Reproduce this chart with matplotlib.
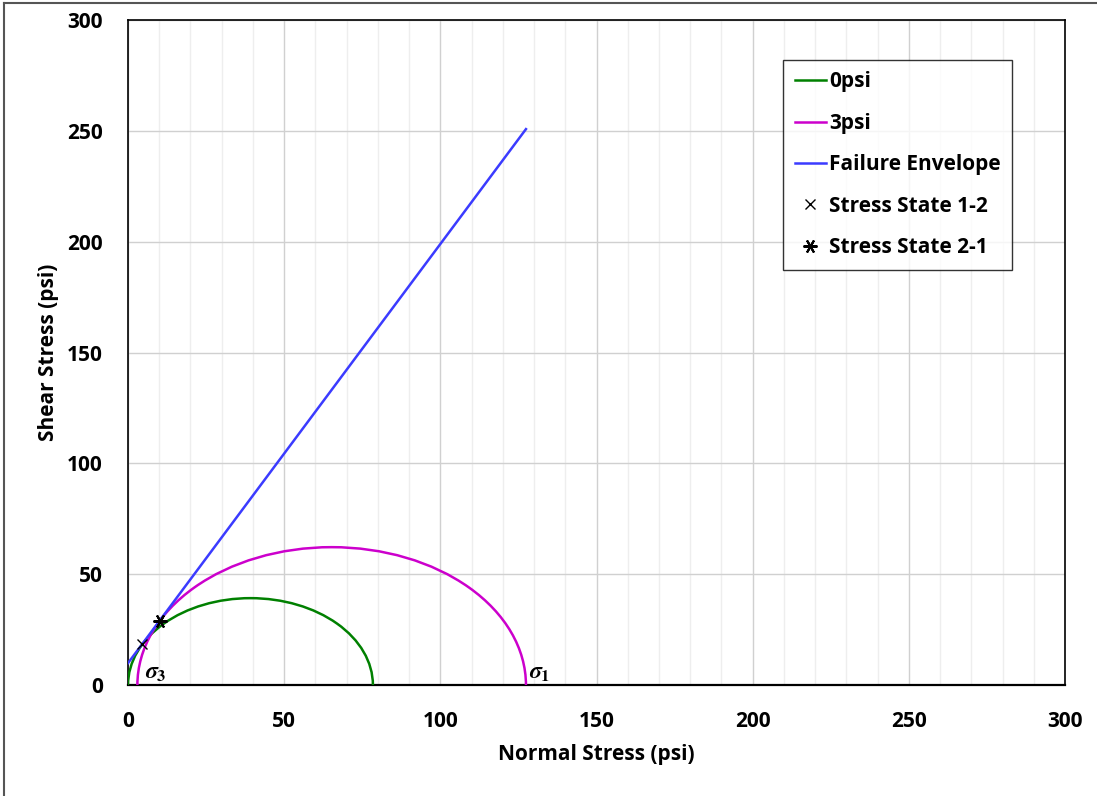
import matplotlib
matplotlib.use("Agg")
import matplotlib.pyplot as plt
from matplotlib.patches import Arc
from matplotlib.lines import Line2D
from matplotlib.ticker import MultipleLocator

plt.rcParams['font.family'] = ['Open Sans', 'DejaVu Sans']
plt.rcParams['font.weight'] = 'bold'
plt.rcParams['mathtext.fontset'] = 'stix'

# Mohr circles: (sigma3, sigma1) in psi
circle_names = ['0psi', '3psi']
sigma3 = [0.0, 3.0]
sigma1 = [78.4, 127.4]
circle_colors = ['#008000', '#cc00cc']

# failure envelope end points
env_x = [0.0, 127.4]
env_y = [9.9, 250.8]

# stress states
s12_x, s12_y = [4.5], [18.5]
s21_x, s21_y = [10.2], [28.9]

fig = plt.figure(figsize=(10.97, 7.96), dpi=100)
ax = fig.add_axes([0.1167, 0.1394, 0.8542, 0.8354])

handles = []
for name, s3, s1, c in zip(circle_names, sigma3, sigma1, circle_colors):
    arc = Arc(((s1 + s3) / 2, 0), s1 - s3, s1 - s3, theta1=0, theta2=180,
              color=c, lw=1.8, zorder=3)
    ax.add_patch(arc)
    handles.append(Line2D([], [], color=c, lw=1.8, label=name))

env, = ax.plot(env_x, env_y, color='#3b3bff', lw=1.8, label='Failure Envelope', zorder=4)
handles.append(env)
p1, = ax.plot(s12_x, s12_y, 'x', color='black', ms=7, mew=1.0, ls='none',
              label='Stress State 1-2', zorder=5)
p2, = ax.plot(s21_x, s21_y, marker=(6, 2, 90), color='black', ms=10, mew=1.5, ls='none',
              label='Stress State 2-1', zorder=5)
handles += [p1, p2]

ax.text(5.3, 0.3, r'$\sigma_3$', fontsize=17, va='bottom', ha='left')
ax.text(128.5, 0.3, r'$\sigma_1$', fontsize=17, va='bottom', ha='left')

ax.set_xlim(0, 300)
ax.set_ylim(0, 300)
ax.xaxis.set_major_locator(MultipleLocator(50))
ax.xaxis.set_minor_locator(MultipleLocator(10))
ax.yaxis.set_major_locator(MultipleLocator(50))
ax.grid(which='major', color='#d0d0d0', lw=1.0)
ax.grid(which='minor', axis='x', color='#eeeeee', lw=1.0)
ax.set_axisbelow(True)
ax.tick_params(which='both', length=0, labelsize=15)
ax.tick_params(axis='x', pad=19)
ax.tick_params(axis='y', pad=18)
for sp in ax.spines.values():
    sp.set_color('black')
    sp.set_linewidth(1.2)
ax.spines['bottom'].set_linewidth(1.6)

ax.set_xlabel('Normal Stress (psi)', fontsize=15, fontweight='bold', labelpad=8)
ax.set_ylabel('Shear Stress (psi)', fontsize=15, fontweight='bold', labelpad=6)

leg = ax.legend(handles=handles, loc='upper right', bbox_to_anchor=(0.9435, 0.94),
                borderaxespad=0.0,
                prop={'weight': 'bold', 'size': 15}, frameon=True,
                fancybox=False, edgecolor='black', handlelength=1.5, handletextpad=0.15,
                labelspacing=0.98, borderpad=0.55)
leg.get_frame().set_linewidth(1.0)

# outer chart border (left and top visible)
fig.add_artist(Line2D([0.004, 0.004], [0, 0.996], transform=fig.transFigure, color='#555555', lw=1.5))
fig.add_artist(Line2D([0.004, 1.0], [0.996, 0.996], transform=fig.transFigure, color='#555555', lw=1.5))

fig.savefig('out.png', dpi=100)
